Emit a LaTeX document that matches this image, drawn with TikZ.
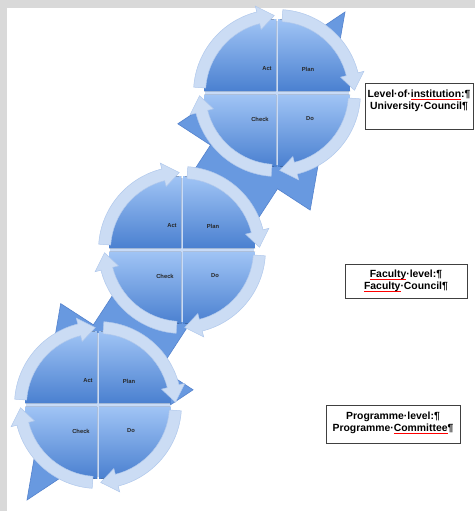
\documentclass[tikz,border=0pt]{standalone}
\usepackage{fontspec}
\setmainfont{Liberation Sans}

\definecolor{arrowblue}{RGB}{104,153,224}
\definecolor{arrowedge}{RGB}{84,130,205}
\definecolor{quartlight}{RGB}{160,196,245}
\definecolor{quartdark}{RGB}{74,128,208}
\definecolor{ringblue}{RGB}{203,220,244}
\definecolor{ringedge}{RGB}{176,200,236}
\definecolor{gapblue}{RGB}{200,219,247}
\definecolor{framegray}{RGB}{217,217,217}

\newcommand{\spellwave}[1]{\leavevmode\setbox0\hbox{#1}%
  \rlap{\textcolor{red}{\hbox to \wd0{\xleaders\hbox{\rule[-2.9pt]{0.8pt}{0.5pt}\rule[-2.3pt]{0.8pt}{0.5pt}}\hfill}}}\box0}

\begin{document}
\begin{tikzpicture}[x=1pt,y=-1pt]
\tikzstyle{bigarrow}=[fill=arrowblue, draw=arrowedge, line width=0.6pt]
\tikzstyle{quarter}=[top color=quartlight, bottom color=quartdark]
\tikzstyle{ring}=[fill=ringblue, draw=ringedge, line width=0.5pt]
\tikzstyle{stage}=[font=\fontsize{5.8}{6}\selectfont\bfseries, text=black!85, inner sep=0pt]
\tikzstyle{levelbox}=[draw=black!75, fill=white, line width=0.8pt, inner sep=0pt, align=center, anchor=base, font=\fontsize{10.4}{12}\selectfont\bfseries]
\useasboundingbox (0,0) rectangle (475,511);
\fill[white] (0,0) rectangle (475,511);
\fill[framegray] (0,0) rectangle (475,8);
\fill[framegray] (0,0) rectangle (7,511);
% the long two-headed arrow behind the cycles
\draw[bigarrow] (27,500) -- (60.7,303.6) -- (93.4,324.8) -- (210.5,145.1) -- (177.8,123.8) -- (345,12)
  -- (310.2,210.1) -- (277.5,188.8) -- (160.4,368.5) -- (193.1,389.8) -- cycle;
% one plan-do-check-act cycle per level
\foreach \cx/\cy/\nm in {277/93/top, 182/250/mid, 98/405/low} {
  \coordinate (\nm) at (\cx,\cy);
  \begin{scope}[shift={(\nm)}]
    \fill[gapblue] (0,0) circle[radius=72];
    \foreach \s/\dx/\dy in {-90/1/-1.8, 0/1/1.8, 90/-1/1.8, 180/-1/-1.8}
      \fill[quarter, shift={(\dx,\dy)}] (0,0) -- (\s:72) arc[start angle=\s, end angle=\s+90, radius=72] -- cycle;
    \foreach \a in {180,270,360,450} {
      \pgfmathsetmacro\b{\a+4}
      \pgfmathsetmacro\c{\a+76}
      \pgfmathsetmacro\d{\a+88}
      \draw[ring] (\b:83.5) arc[start angle=\b, end angle=\c, radius=83.5] -- (\c:89.5) -- (\d:77.5)
        -- (\c:65.5) -- (\c:71.5) arc[start angle=\c, end angle=\b, radius=71.5] -- cycle;
    }
    \node[stage] (\nm-act) at (-10,-24) {Act};
    \node[stage] (\nm-plan) at (31,-24) {Plan};
    \node[stage] (\nm-check) at (-17,26) {Check};
    \node[stage] (\nm-do) at (33,26) {Do};
  \end{scope}
}
\node[levelbox, text width=108pt, text height=14pt, text depth=32pt] (inst) at (419,97)
  {Level·of·\spellwave{institution}:¶\\University·Council¶};
\node[levelbox, text width=122pt, text height=13pt, text depth=21pt] (fac) at (406,277)
  {\spellwave{Faculty}·level:¶\\\spellwave{Faculty}·Council¶};
\node[levelbox, text width=134pt, text height=14pt, text depth=24pt] (prog) at (393,419)
  {Programme·level:¶\\Programme·\spellwave{Committee}¶};
\end{tikzpicture}
\end{document}
